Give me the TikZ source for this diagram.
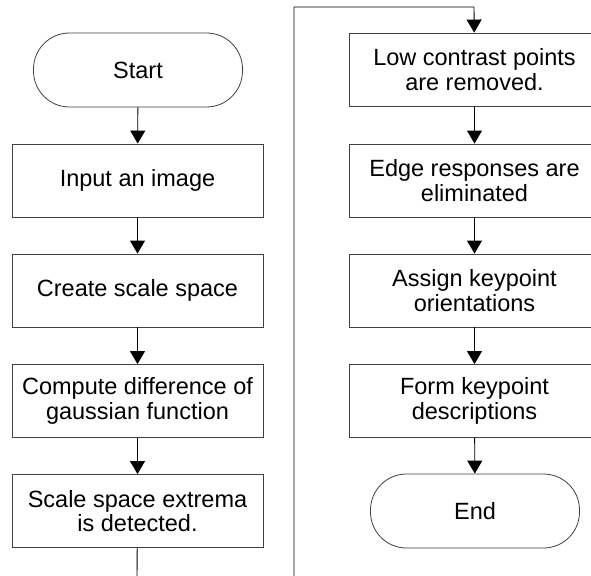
\documentclass[tikz,border=0pt]{standalone}
\usepackage{fontspec}
\setmainfont{Liberation Sans}
\usetikzlibrary{arrows.meta}
\begin{document}
\begin{tikzpicture}[x=1pt,y=-1pt,
  proc/.style={draw=black!75,line width=0.9pt,minimum width=251pt,minimum height=73pt,
    align=center,font=\fontsize{23.5pt}{24.5pt}\selectfont,inner sep=0pt},
  term/.style={draw=black!75,line width=0.8pt,minimum width=209pt,minimum height=74pt,
    rounded corners=36pt,align=center,font=\fontsize{23.5pt}{24.5pt}\selectfont,inner sep=0pt},
  flow/.style={draw=black,line width=0.9pt,-{Triangle[width=15pt,length=13pt]}},
  link/.style={draw=black,line width=0.9pt}]
\clip (0,0) rectangle (591,575);
\fill[white] (0,0) rectangle (591,575);
% left column
\node[term] (start) at (138,70) {Start};
\node[proc] (input) at (137.5,180.5) {Input an image};
\node[proc] (create) at (137.5,290.5) {Create scale space};
\node[proc] (comp) at (137.5,401) {Compute difference of\\gaussian function};
\node[proc] (scale) at (137.5,511) {Scale space extrema\\is detected.};
% right column
\node[proc] (low) at (474.5,69.5) {Low contrast points\\are removed.};
\node[proc] (edge) at (474.5,180.5) {Edge responses are\\eliminated};
\node[proc] (assign) at (474.5,290.5) {Assign keypoint\\orientations};
\node[proc] (form) at (474.5,401) {Form keypoint\\descriptions};
\node[term] (end) at (475,511) {End};
\coordinate (c1) at (137,576);
\coordinate (c2) at (294,576);
\coordinate (c3) at (294,7);
\coordinate (c4) at (474,7);
\draw[flow] (start) -- (input);
\draw[flow] (input) -- (create);
\draw[flow] (create) -- (comp);
\draw[flow] (comp) -- (scale);
\draw[link] (scale) -- (c1);
\draw[flow] (c2) -- (c3) -- (c4) -- (low);
\draw[flow] (low) -- (edge);
\draw[flow] (edge) -- (assign);
\draw[flow] (assign) -- (form);
\draw[flow] (form) -- (end);
\end{tikzpicture}
\end{document}
